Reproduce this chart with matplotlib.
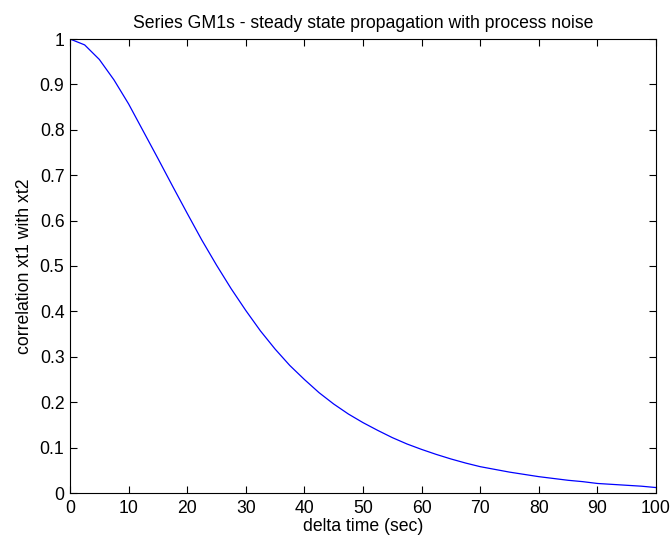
import matplotlib
matplotlib.use("Agg")
import matplotlib.pyplot as plt

# correlation between xt1 and xt2 versus delta time
delta_t = [0, 2.5, 5, 7.5, 10, 12.5, 15, 17.5, 20, 22.5, 25, 27.5, 30, 32.5, 35,
           37.5, 40, 42.5, 45, 47.5, 50, 52.5, 55, 57.5, 60, 62.5, 65, 67.5, 70,
           72.5, 75, 77.5, 80, 82.5, 85, 87.5, 90, 92.5, 95, 97.5, 100]
correl = [1.000, 0.987, 0.955, 0.910, 0.857, 0.797, 0.737, 0.676, 0.616, 0.557,
          0.502, 0.450, 0.402, 0.357, 0.317, 0.281, 0.250, 0.221, 0.196, 0.174,
          0.155, 0.138, 0.122, 0.108, 0.096, 0.085, 0.075, 0.066, 0.058, 0.052,
          0.046, 0.041, 0.036, 0.032, 0.028, 0.025, 0.021, 0.019, 0.017, 0.015,
          0.012]

xticks = list(range(0, 101, 10))
yticks = [0, 0.1, 0.2, 0.3, 0.4, 0.5, 0.6, 0.7, 0.8, 0.9, 1]
ytick_labels = ["0", "0.1", "0.2", "0.3", "0.4", "0.5", "0.6", "0.7", "0.8", "0.9", "1"]

plt.rcParams["font.family"] = ["Liberation Sans", "DejaVu Sans"]
fs = 12.7

fig = plt.figure(figsize=(6.71, 5.40), dpi=100)
ax = fig.add_axes([70 / 671, 47 / 540, 586 / 671, 454 / 540])

ax.plot(delta_t, correl, color=(0, 0, 1), linewidth=0.9)

ax.set_xlim(0, 100)
ax.set_ylim(0, 1)
ax.set_xticks(xticks)
ax.set_yticks(yticks)
ax.set_yticklabels(ytick_labels)
ax.tick_params(direction="in", top=True, right=True, length=5, width=0.8,
               labelsize=fs)
ax.tick_params(axis="x", pad=5)
ax.tick_params(axis="y", pad=4)
for s in ax.spines.values():
    s.set_linewidth(0.8)

ax.set_title("Series GM1s - steady state propagation with process noise",
             fontsize=fs, pad=8)
ax.set_xlabel("delta time (sec)", fontsize=fs, labelpad=1)
ax.set_ylabel("correlation xt1 with xt2", fontsize=fs, labelpad=5)

fig.savefig("out.png", dpi=100)
